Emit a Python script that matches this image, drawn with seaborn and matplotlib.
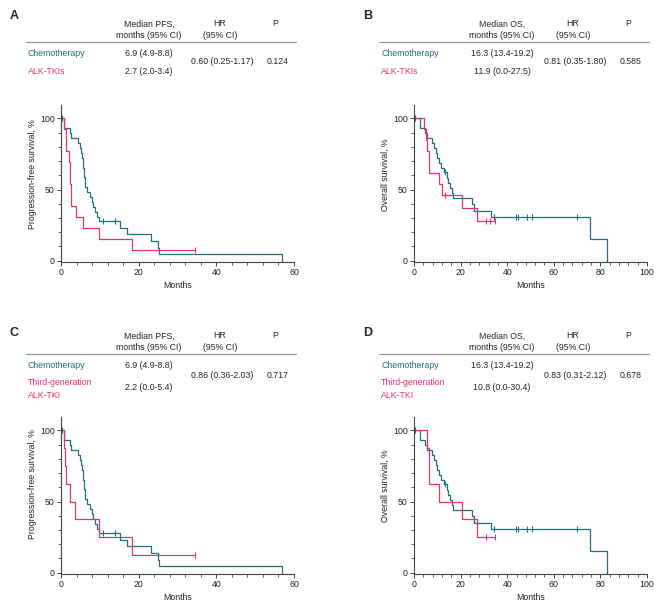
import numpy as np
import pandas as pd
import seaborn as sns
import matplotlib.pyplot as plt
from matplotlib.ticker import MultipleLocator, FixedLocator

# Kaplan-Meier step data (months, survival %)
chemo_pfs_t = [0, 0.9, 2.3, 2.7, 4.3, 4.8, 5.1, 5.5, 5.7, 5.9, 6.1, 6.8, 7.4, 7.9,
               8.3, 8.8, 9.2, 9.7, 15.2, 17.1, 23.3, 25.0, 25.3, 56.8]
chemo_pfs_s = [100, 93.1, 89.7, 86.2, 82.8, 79.3, 75.9, 72.4, 65.5, 58.6, 51.7, 48.3,
               44.8, 41.4, 37.9, 34.5, 31.0, 27.6, 23.0, 18.4, 13.8, 9.2, 4.6, 0]
chemo_pfs_cens = [0.3, 10.8, 13.8]

alk_pfs_t = [0, 0.8, 1.3, 2.0, 2.3, 2.7, 3.8, 5.7, 9.9, 18.2, 34.5]
alk_pfs_s = [100, 92.3, 76.9, 69.2, 53.8, 38.5, 30.8, 23.1, 15.4, 7.7, 7.7]
alk_pfs_cens = [34.5]

third_pfs_t = [0, 0.8, 1.1, 1.2, 2.2, 3.6, 9.9, 18.3, 34.5]
third_pfs_s = [100, 87.5, 75, 62.5, 50, 37.5, 25, 12.5, 12.5]
third_pfs_cens = [34.5]

chemo_os_t = [0, 2.5, 4.7, 5.4, 7.6, 8.7, 9.4, 10.0, 10.7, 11.4, 12.9, 14.0, 14.8,
              15.5, 16.3, 16.8, 24.8, 25.9, 32.9, 75.5, 83.0]
chemo_os_s = [100, 93.1, 89.7, 86.2, 82.8, 79.3, 75.9, 72.4, 69.0, 65.5, 62.1, 58.4,
              54.8, 51.2, 47.5, 43.9, 39.5, 35.1, 31.0, 15.5, 0]
chemo_os_cens = [0.3, 13.3, 34.3, 43.8, 44.8, 48.4, 50.8, 70.1]

alk_os_t = [0, 4.3, 5.0, 5.6, 6.3, 10.7, 11.9, 20.4, 26.9, 34.6]
alk_os_s = [100, 92.3, 84.6, 76.9, 61.5, 53.8, 46.2, 36.9, 27.7, 27.7]
alk_os_cens = [13.3, 30.8, 32.5, 34.6]

third_os_t = [0, 5.4, 6.3, 10.8, 20.7, 26.9, 34.7]
third_os_s = [100, 87.5, 62.5, 50, 37.5, 25, 25]
third_os_cens = [31.0, 34.7]

# table text
groups_ab = ["Chemotherapy", "ALK-TKIs"]
groups_cd = ["Chemotherapy", "Third-generation\nALK-TKI"]
median_a = ["6.9 (4.9-8.8)", "2.7 (2.0-3.4)"]
median_b = ["16.3 (13.4-19.2)", "11.9 (0.0-27.5)"]
median_c = ["6.9 (4.9-8.8)", "2.2 (0.0-5.4)"]
median_d = ["16.3 (13.4-19.2)", "10.8 (0.0-30.4)"]
hr_vals = ["0.60 (0.25-1.17)", "0.81 (0.35-1.80)", "0.86 (0.36-2.03)", "0.83 (0.31-2.12)"]
p_vals = ["0.124", "0.585", "0.717", "0.678"]

TEAL = "#22707f"
PINK = "#e4307a"
W, H = 669, 613
FS = 6.3

sns.set_theme(style="ticks")
plt.rcParams['font.family'] = ['Liberation Sans', 'DejaVu Sans']

fig = plt.figure(figsize=(W / 100, H / 100), dpi=100)


def ftext(x, y, s, **kw):
    fig.text(x / W, 1 - y / H, s, fontsize=kw.pop('fontsize', FS), va='center', **kw)


def step_value(t, s, x):
    idx = np.searchsorted(t, x, side='right') - 1
    return np.asarray(s)[idx]


def km_panel(left, top, bottom, xmax, curves, ylabel, ylab_y):
    # axes placed in pixel units
    ax = fig.add_axes([left / W, 1 - bottom / H, 233 / W, (bottom - top) / H])
    for t, s, cens, color in curves:
        df = pd.DataFrame({'Months': t, 'Survival': s})
        sns.lineplot(data=df, x='Months', y='Survival', drawstyle='steps-post',
                     estimator=None, sort=False, color=color, lw=0.9, ax=ax)
        cd = pd.DataFrame({'Months': cens, 'Survival': step_value(t, s, cens)})
        sns.scatterplot(data=cd, x='Months', y='Survival', marker='|', s=18,
                        linewidth=0.8, color=color, ax=ax, zorder=3)
    ax.set_xlim(0, xmax)
    ax.set_ylim(-1, 109.5)
    ax.xaxis.set_major_locator(MultipleLocator(20))
    ax.xaxis.set_minor_locator(MultipleLocator(4))
    ax.yaxis.set_major_locator(FixedLocator([0, 50, 100]))
    ax.yaxis.set_minor_locator(MultipleLocator(10))
    sns.despine(ax=ax)
    for sp in ax.spines.values():
        sp.set_color('#444444')
        sp.set_linewidth(0.8)
    ax.tick_params(which='major', length=3, width=0.7, color='#444444',
                   labelsize=FS, pad=1.5, labelcolor='#222222')
    ax.tick_params(which='minor', length=2, width=0.6, color='#444444')
    ax.set_xlabel('Months', fontsize=FS, labelpad=3, color='#222222')
    ax.set_ylabel(ylabel, fontsize=FS, color='#222222')
    ax.yaxis.set_label_coords(-0.105, ylab_y)
    return ax


def table(L, letter, ly, y0, header, groups, medians, hr, p, two_line):
    ftext(L - 51, ly, letter, fontsize=9, fontweight='bold', ha='left')
    ftext(L + 88, y0, header, ha='center')
    ftext(L + 88, y0 + 11, "months (95% CI)", ha='center')
    ftext(L + 159, y0, "HR", ha='center')
    ftext(L + 159, y0 + 11, "(95% CI)", ha='center')
    ftext(L + 214, y0, "P", ha='center')
    fig.add_artist(plt.Line2D([(L - 35) / W, (L + 235) / W],
                              [1 - (y0 + 17.5) / H] * 2, color='#999999', lw=0.9))
    r1 = y0 + 29
    r2 = y0 + (47 if not two_line else 53)
    ftext(L - 33, r1, groups[0], ha='left', color=TEAL)
    ftext(L - 33, r2, groups[1], ha='left', color=PINK, linespacing=1.5)
    ftext(L + 88, r1, medians[0], ha='center')
    ftext(L + 88, r2 - (1 if two_line else 0), medians[1], ha='center')
    hy = (r1 + r2) / 2 - (2 if two_line else 0)
    ftext(L + 161, hy, hr, ha='center')
    ftext(L + 217, hy, p, ha='center')


km_panel(61, 105, 262, 60,
         [(chemo_pfs_t, chemo_pfs_s, chemo_pfs_cens, TEAL),
          (alk_pfs_t, alk_pfs_s, alk_pfs_cens, PINK)],
         'Progression-free survival, %', 0.56)
km_panel(414, 105, 262, 100,
         [(chemo_os_t, chemo_os_s, chemo_os_cens, TEAL),
          (alk_os_t, alk_os_s, alk_os_cens, PINK)],
         'Overall survival, %', 0.555)
km_panel(61, 417, 574, 60,
         [(chemo_pfs_t, chemo_pfs_s, chemo_pfs_cens, TEAL),
          (third_pfs_t, third_pfs_s, third_pfs_cens, PINK)],
         'Progression-free survival, %', 0.57)
km_panel(414, 417, 574, 100,
         [(chemo_os_t, chemo_os_s, chemo_os_cens, TEAL),
          (third_os_t, third_os_s, third_os_cens, PINK)],
         'Overall survival, %', 0.565)

table(61, "A", 16, 24, "Median PFS,", groups_ab, median_a, hr_vals[0], p_vals[0], False)
table(414, "B", 16, 24, "Median OS,", groups_ab, median_b, hr_vals[1], p_vals[1], False)
table(61, "C", 333, 336, "Median PFS,", groups_cd, median_c, hr_vals[2], p_vals[2], True)
table(414, "D", 333, 336, "Median OS,", groups_cd, median_d, hr_vals[3], p_vals[3], True)

fig.savefig('out.png', dpi=100, facecolor='white')
